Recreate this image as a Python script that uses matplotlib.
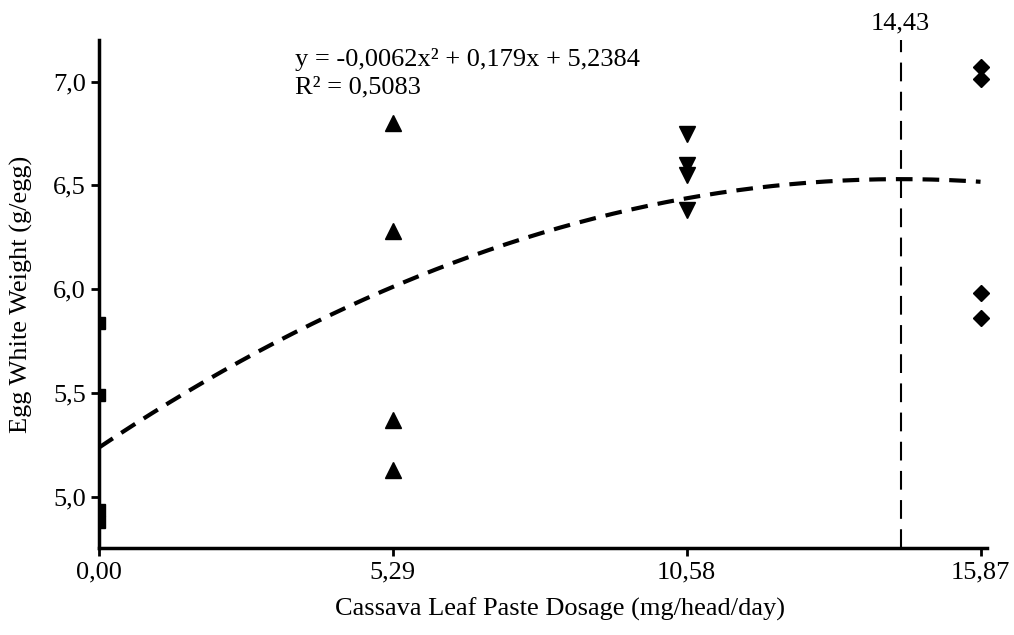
import matplotlib.pyplot as plt
import numpy as np

plt.rcParams['font.family'] = ['Liberation Serif', 'DejaVu Serif']

# data
dose_ticks = [0.00, 5.29, 10.58, 15.87]
tick_labels = ["0,00", "5,29", "10,58", "15,87"]
w_0 = [5.84, 5.49, 4.94, 4.88]
w_529 = [6.80, 6.28, 5.37, 5.13]
w_1058 = [6.75, 6.60, 6.55, 6.38]
w_1587 = [7.07, 7.01, 5.98, 5.86]
coef = [-0.0062, 0.179, 5.2384]
x_opt = 14.43

fig = plt.figure(figsize=(10.14, 6.35), dpi=100)
ax = fig.add_axes([0.0976, 0.137, 0.8754, 0.800])

ax.plot([dose_ticks[0]] * 4, w_0, ls='none', marker='s', ms=9, color='black')
ax.plot([dose_ticks[1]] * 4, w_529, ls='none', marker='^', ms=11, color='black')
ax.plot([dose_ticks[2]] * 4, w_1058, ls='none', marker='v', ms=11, color='black')
ax.plot([dose_ticks[3]] * 4, w_1587, ls='none', marker='D', ms=8.5, color='black', clip_on=False)

xs = np.linspace(0, dose_ticks[-1], 200)
ax.plot(xs, np.polyval(coef, xs), color='black', lw=3, dashes=(4, 2.4))

ax.axvline(x_opt, color='black', lw=1.5, dashes=(9, 5))
ax.text(x_opt, 7.225, "14,43", ha='center', va='bottom', fontsize=19)

ax.text(3.53, 6.92, "y = -0,0062x² + 0,179x + 5,2384\nR² = 0,5083",
        fontsize=19, ha='left', va='bottom', linespacing=1.3)

ax.set_xlim(0, 15.98)
ax.set_ylim(4.755, 7.2)
ax.set_xticks(dose_ticks)
ax.set_xticklabels(tick_labels)
ax.set_yticks([5.0, 5.5, 6.0, 6.5, 7.0])
ax.set_yticklabels(["5,0", "5,5", "6,0", "6,5", "7,0"])
ax.tick_params(labelsize=19, width=2, length=6, direction='out')

for s in ['top', 'right']:
    ax.spines[s].set_visible(False)
for s in ['left', 'bottom']:
    ax.spines[s].set_linewidth(2.5)

ax.set_xlabel("Cassava Leaf Paste Dosage (mg/head/day)", fontsize=19)
ax.xaxis.set_label_coords(0.519, -0.098)
ax.set_ylabel("Egg White Weight (g/egg)", fontsize=19)
ax.yaxis.set_label_coords(-0.074, 0.5)

fig.savefig("out.png", dpi=100)
